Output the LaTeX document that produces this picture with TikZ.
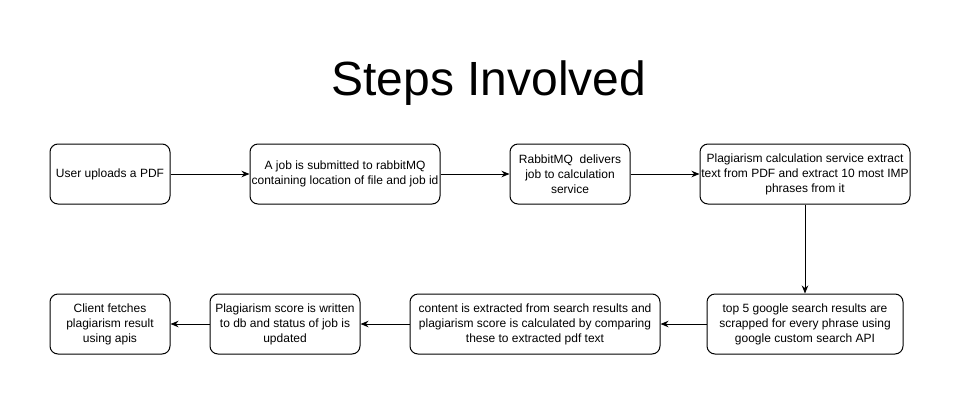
\documentclass[tikz,border=0pt]{standalone}
\usepackage{fontspec}
\setmainfont{Liberation Sans}
\usetikzlibrary{arrows.meta}

\tikzset{
    stepbox/.style={draw,line width=1pt,rounded corners=8pt,minimum height=60pt,align=center,inner sep=1pt,font=\fontsize{12pt}{15pt}\selectfont},
    flow/.style={line width=1pt,-{Stealth[length=8pt,width=6.5pt]}}
}

\begin{document}
\begin{tikzpicture}[x=1pt,y=-1pt]
    \useasboundingbox (0,0) rectangle (961,405);
    \node (title) at (489,83) {\fontsize{48pt}{52pt}\selectfont Steps Involved};

    % top row
    \node [ stepbox,minimum width=120pt ] (upload) at (110,174) {User uploads a PDF};
    \node [ stepbox,minimum width=190pt ] (submit) at (345,174) {A job is submitted to rabbitMQ\\containing location of file and job id};
    \node [ stepbox,minimum width=120pt ] (deliver) at (570,174) {RabbitMQ\ \ delivers\\job to calculation\\service};
    \node [ stepbox,minimum width=210pt ] (extract) at (805,174) {Plagiarism calculation service extract\\text from PDF and extract 10 most IMP\\phrases from it};

    % bottom row
    \node [ stepbox,minimum width=196pt ] (search) at (805,324) {top 5 google search results are\\scrapped for every phrase using\\google custom search API};
    \node [ stepbox,minimum width=250pt ] (score) at (535,324) {content is extracted from search results and\\plagiarism score is calculated by comparing\\these to extracted pdf text};
    \node [ stepbox,minimum width=150pt ] (store) at (285,324) {Plagiarism score is written\\to db and status of job is\\updated};
    \node [ stepbox,minimum width=120pt ] (client) at (110,324) {Client fetches\\plagiarism result\\using apis};

    \draw [ flow ] (upload) -- (submit);
    \draw [ flow ] (submit) -- (deliver);
    \draw [ flow ] (deliver) -- (extract);
    \draw [ flow ] (extract) -- (search);
    \draw [ flow ] (search) -- (score);
    \draw [ flow ] (score) -- (store);
    \draw [ flow ] (store) -- (client);
\end{tikzpicture}
\end{document}
